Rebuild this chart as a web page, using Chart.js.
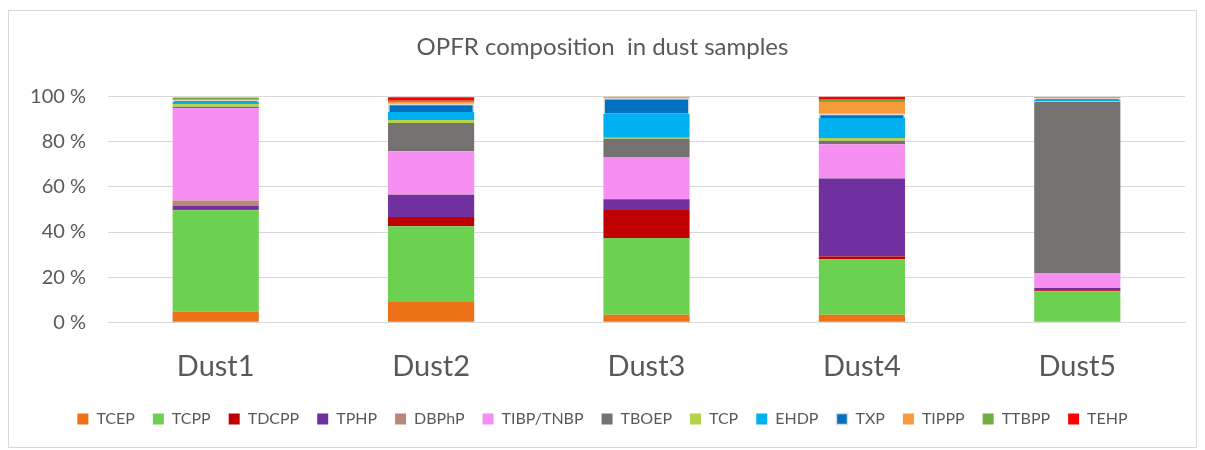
<!DOCTYPE html>
<html>
<head>
<meta charset="utf-8">
<script src="https://cdn.jsdelivr.net/npm/chart.js@4.4.1/dist/chart.umd.min.js"></script>
<style>
  html, body { margin: 0; padding: 0; background: #fff; }
  #frame { position: absolute; left: 8px; top: 10px; width: 1189px; height: 438px; border: 1px solid #d9d9d9; box-sizing: border-box; }
  #wrap { position: absolute; left: 0; top: 0; width: 1205px; height: 450px; }
</style>
</head>
<body>
<div id="frame"></div>
<div id="wrap"><canvas id="chart"></canvas></div>
<script>
// amostras
const amostras = ['Dust1', 'Dust2', 'Dust3', 'Dust4', 'Dust5'];
const compostos = ['TCEP', 'TCPP', 'TDCPP', 'TPHP', 'DBPhP', 'TIBP/TNBP', 'TBOEP', 'TCP', 'EHDP', 'TXP', 'TIPPP', 'TTBPP', 'TEHP'];
const cores = ['#ED7117', '#6CD150', '#C00000', '#7030A0', '#B8877A', '#F78FF3', '#767171', '#B4D24C', '#00B0F0', '#0070C0', '#F99B3A', '#70AD47', '#FF0000'];

// percentuais (%), por composto
const TCEP  = [4.8, 9.3, 3.3, 3.3, 0.4];
const TCPP  = [44.9, 33.3, 34.1, 24.6, 13.3];
const TDCPP = [0.4, 4.1, 12.4, 1.3, 0.5];
const TPHP  = [1.5, 9.8, 4.7, 34.5, 1.0];
const DBPhP = [2.4, 0.2, 0.2, 0.2, 0.2];
const TIBP  = [41.0, 19.1, 18.4, 15.1, 6.4];
const TBOEP = [0.6, 12.6, 8.3, 1.5, 75.9];
const TCP   = [1.2, 1.3, 0.4, 1.2, 0.2];
const EHDP  = [0.9, 3.6, 10.7, 8.9, 0.7];
const TXP   = [0.7, 3.6, 7.0, 1.9, 0.7];
const TIPPP = [0.3, 0.8, 0.7, 5.2, 0.4];
const TTBPP = [1.0, 0.6, 0.0, 1.0, 0.0];
const TEHP  = [0.0, 1.5, 0.0, 1.5, 0.2];

const yTicks = [0, 20, 40, 60, 80, 100];

const valores = [TCEP, TCPP, TDCPP, TPHP, DBPhP, TIBP, TBOEP, TCP, EHDP, TXP, TIPPP, TTBPP, TEHP];

const datasets = compostos.map((nome, i) => ({
  label: nome,
  data: valores[i],
  backgroundColor: cores[i],
  borderColor: nome === 'TXP' ? '#d9d9d9' : cores[i],
  borderWidth: nome === 'TXP' ? 1.5 : 0,
  barPercentage: 0.4,
  categoryPercentage: 1.0
}));

const fonte = 'Lato, Calibri, sans-serif';

// sobe a legenda para perto do eixo
const moverLegenda = {
  id: 'moverLegenda',
  afterLayout(chart) {
    const lg = chart.legend;
    lg.top -= 10;
    lg.bottom -= 10;
  }
};

new Chart(document.getElementById('chart').getContext('2d'), {
  type: 'bar',
  data: { labels: amostras, datasets: datasets },
  plugins: [moverLegenda],
  options: {
    responsive: true,
    maintainAspectRatio: false,
    animation: false,
    layout: { padding: { left: 20, right: 20, top: 0, bottom: 3 } },
    plugins: {
      title: {
        display: true,
        text: 'OPFR composition  in dust samples',
        color: '#595959',
        font: { family: fonte, size: 24, weight: 'normal' },
        padding: { top: 33, bottom: 35 }
      },
      legend: {
        position: 'bottom',
        labels: {
          color: '#595959',
          font: { family: fonte, size: 16 },
          boxWidth: 11,
          boxHeight: 11,
          padding: 18
        }
      },
      tooltip: { enabled: false }
    },
    scales: {
      x: {
        stacked: true,
        grid: { display: false },
        border: { color: '#d9d9d9' },
        ticks: { color: '#595959', font: { family: fonte, size: 29 }, padding: 19 }
      },
      y: {
        stacked: true,
        min: 0,
        max: 100,
        afterFit: (scale) => { scale.width = 88; },
        afterBuildTicks: (scale) => { scale.ticks = yTicks.map(v => ({ value: v })); },
        border: { display: false },
        grid: { color: '#d9d9d9', drawTicks: false },
        ticks: {
          color: '#595959',
          font: { family: fonte, size: 20 },
          padding: 22,
          callback: (v) => v + ' %'
        }
      }
    }
  }
});
</script>
</body>
</html>
